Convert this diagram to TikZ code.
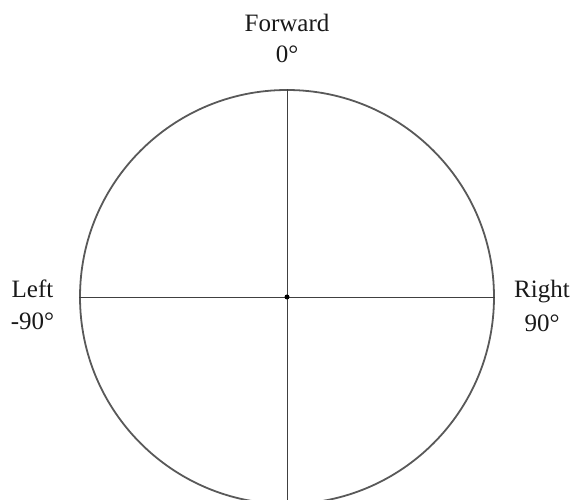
\documentclass[tikz,border=0pt]{standalone}
\usepackage{fontspec}
\setmainfont{Liberation Serif}
\begin{document}
\begin{tikzpicture}[x=1pt,y=1pt,
  lbl/.style={anchor=base,inner sep=0pt,font=\fontsize{25}{30}\selectfont,text=black!90},
  ring/.style={circle,draw=black!65,line width=1.8pt,minimum size=414pt,inner sep=0pt},
  axis/.style={draw=black!75,line width=0.9pt}]
\useasboundingbox (0,0) rectangle (573,500);
\node[ring] (c) at (287,203) {};
\coordinate (bot) at (287,0);
\draw[axis] (c.north) -- (bot);
\draw[axis] (c.west) -- (c.east);
\fill[black] (c.center) circle (2.5pt);
\node[lbl] (fwd) at (287,468) {Forward};
\node[lbl] (fwd0) at (287,437) {0°};
\node[lbl] (left) at (32.5,202.5) {Left};
\node[lbl] (left90) at (32.5,170) {-90°};
\node[lbl] (right) at (542,202.5) {Right};
\node[lbl] (right90) at (542,168) {90°};
\end{tikzpicture}
\end{document}
